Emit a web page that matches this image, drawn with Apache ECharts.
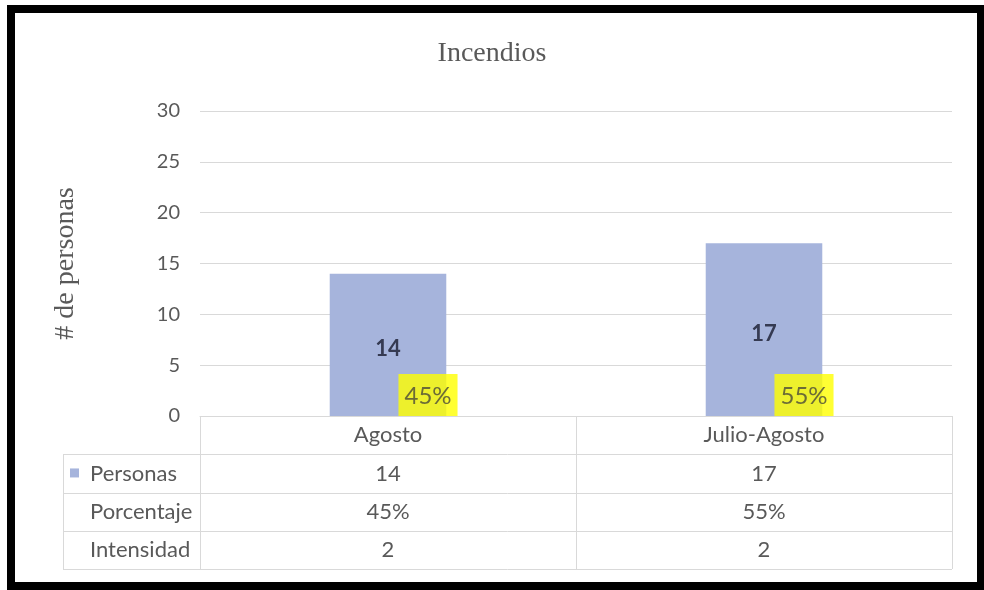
<!DOCTYPE html>
<html>
<head>
<meta charset="utf-8">
<script src="https://cdn.jsdelivr.net/npm/echarts@6/dist/echarts.min.js"></script>
<style>
html,body{margin:0;padding:0;background:#fff;}
#c{width:984px;height:590px;}
</style>
</head>
<body>
<div id="c"></div>
<script>
const categories = ['Agosto', 'Julio-Agosto'];
const personas = [14, 17];
const porcentaje = ['45%', '55%'];
const intensidad = [2, 2];
const rowHeaders = ['Personas', 'Porcentaje', 'Intensidad'];

const barColor = '#a6b4dc';
const textColor = '#595959';
const lineColor = '#d9d9d9';

const chart = echarts.init(document.getElementById('c'), null, {renderer: 'canvas'});

const gridLeft = 200, gridRight = 32, gridTop = 111, gridBottom = 174;
const axisY = 590 - gridBottom;
const rowH = 38.3;
const tableLeft = 63;
const tableRight = 984 - gridRight;

const graphics = [];
// frame
graphics.push({type: 'rect', shape: {x: 11, y: 9, width: 970, height: 577}, style: {fill: 'none', stroke: '#000', lineWidth: 8}, z: 100});
// horizontal table lines
for (let r = 1; r <= 4; r++) {
  const y = Math.round(axisY + r * rowH) + 0.5;
  graphics.push({type: 'line', shape: {x1: tableLeft, y1: y, x2: tableRight, y2: y}, style: {stroke: lineColor, lineWidth: 1}});
}
// left vertical line
graphics.push({type: 'line', shape: {x1: tableLeft + 0.5, y1: Math.round(axisY + rowH), x2: tableLeft + 0.5, y2: Math.round(axisY + 4 * rowH)}, style: {stroke: lineColor, lineWidth: 1}});
// legend key
graphics.push({type: 'rect', shape: {x: 70, y: axisY + 1.5 * rowH - 5, width: 9, height: 9}, style: {fill: barColor}});
// row headers
rowHeaders.forEach((t, i) => {
  graphics.push({type: 'text', x: 90, y: axisY + (1.5 + i) * rowH, style: {text: t, fill: textColor, font: '22px Lato, "Liberation Sans", sans-serif', textAlign: 'left', textVerticalAlign: 'middle'}});
});

const option = {
  backgroundColor: '#fff',
  animation: false,
  title: {
    text: 'Incendios', left: 'center', top: 35,
    textStyle: {fontFamily: '"Liberation Serif", "DejaVu Serif", serif', fontSize: 28, fontWeight: 'normal', color: textColor}
  },
  grid: {left: gridLeft, right: gridRight, top: gridTop, bottom: gridBottom, containLabel: false},
  xAxis: {
    type: 'category',
    data: categories,
    axisLine: {show: true, lineStyle: {color: lineColor}},
    axisTick: {show: true, length: Math.round(4 * rowH), lineStyle: {color: lineColor}},
    axisLabel: {
      margin: 0,
      color: textColor,
      fontFamily: 'Lato, "Liberation Sans", sans-serif',
      fontSize: 22,
      lineHeight: rowH,
      formatter: function (v, i) {
        return [v, personas[i], porcentaje[i], intensidad[i]].join('\n');
      }
    }
  },
  yAxis: {
    type: 'value',
    min: 0, max: 30, interval: 5,
    name: '# de personas',
    nameLocation: 'middle',
    nameGap: 120,
    nameRotate: 90,
    nameTextStyle: {fontFamily: '"Liberation Serif", "DejaVu Serif", serif', fontSize: 28, color: textColor},
    axisLine: {show: false},
    axisTick: {show: false},
    axisLabel: {margin: 20, color: textColor, fontFamily: 'Lato, "Liberation Sans", sans-serif', fontSize: 20},
    splitLine: {lineStyle: {color: lineColor}}
  },
  series: [
    {
      type: 'bar',
      data: personas,
      barWidth: '31%',
      itemStyle: {color: barColor},
      label: {
        show: true, position: 'inside', offset: [0, 4],
        fontFamily: 'Lato, "Liberation Sans", sans-serif', fontSize: 22, fontWeight: 'bold', color: '#353a52'
      }
    },
    {
      type: 'scatter',
      data: categories.map((c, i) => [i, 0]),
      symbolSize: 0,
      silent: true,
      z: 5,
      label: {
        show: true, position: 'top', distance: 0, offset: [40, 0],
        formatter: function (p) { return porcentaje[p.dataIndex]; },
        backgroundColor: '#ffff00',
        padding: [10, 6, 8, 6],
        fontFamily: 'Lato, "Liberation Sans", sans-serif', fontSize: 24, color: '#4a4a3a'
      }
    }
  ],
  graphic: graphics
};
chart.setOption(option);
</script>
</body>
</html>
